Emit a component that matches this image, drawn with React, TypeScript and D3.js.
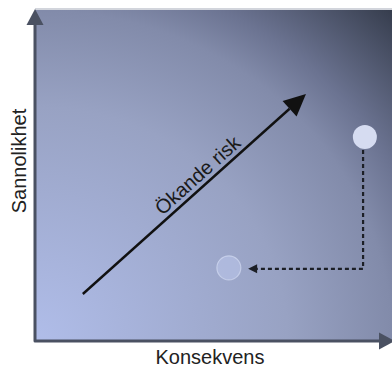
import React from "react";
import * as d3 from "d3";

const X_LABEL = "Konsekvens";
const Y_LABEL = "Sannolikhet";
const TREND_LABEL = "Ökande risk";

// data space 0..100 on both axes
const xDomain = [0, 100];
const yDomain = [0, 100];

const riskPoints = [
  { name: "före", x: 92.4, y: 61.6 },
  { name: "efter", x: 54.3, y: 22.1 },
];
const trendArrow = [
  { x: 13.4, y: 14.2 },
  { x: 75.9, y: 74.6 },
];
const mitigationPath = [
  { x: 91.9, y: 57.7 },
  { x: 91.9, y: 21.8 },
  { x: 59.7, y: 21.8 },
];

const W = 392;
const H = 368;

export default function App() {
  const x = d3.scaleLinear().domain(xDomain).range([35, 392]);
  const y = d3.scaleLinear().domain(yDomain).range([341, 10]);

  const x0 = x(0), x1 = x(100), y0 = y(0), y1 = y(100);

  const head = (tx: number, ty: number, fx: number, fy: number, len: number, hw: number) => {
    const dx = tx - fx, dy = ty - fy;
    const L = Math.hypot(dx, dy);
    const ux = dx / L, uy = dy / L;
    const bx = tx - ux * len, by = ty - uy * len;
    const nx = -uy, ny = ux;
    return {
      pts: `${tx},${ty} ${bx + nx * hw},${by + ny * hw} ${bx - nx * hw},${by - ny * hw}`,
      bx, by,
    };
  };

  // trend arrow
  const ta = trendArrow.map((p) => [x(p.x), y(p.y)] as [number, number]);
  const taHead = head(ta[1][0], ta[1][1], ta[0][0], ta[0][1], 22, 10.5);
  const angle = (Math.atan2(ta[1][1] - ta[0][1], ta[1][0] - ta[0][0]) * 180) / Math.PI;
  const t = 0.55;
  const tdx = ta[1][0] - ta[0][0], tdy = ta[1][1] - ta[0][1];
  const tL = Math.hypot(tdx, tdy);
  const nX = tdy / tL, nY = -tdx / tL;
  const labX = ta[0][0] + tdx * t + nX * 5;
  const labY = ta[0][1] + tdy * t + nY * 5;

  // mitigation dashed path
  const mp = mitigationPath.map((p) => [x(p.x), y(p.y)] as [number, number]);
  const last = mp[mp.length - 1];
  const prev = mp[mp.length - 2];
  const mHead = head(last[0], last[1], prev[0], prev[1], 9, 4.5);
  const mpLine = d3.line()([...mp.slice(0, -1), [mHead.bx, mHead.by]]);

  // axes
  const yHead = head(x0, 9, x0, y0, 16, 8.5);
  const xHead = head(395, y0, x0, y0, 16, 8.5);
  const axisPath = d3.line()([
    [x0, yHead.by],
    [x0, y0],
    [xHead.bx, y0],
  ]);

  return (
    <svg width={W} height={H} style={{ position: "absolute", left: 0, top: 0 }}>
      <defs>
        <radialGradient id="bg" cx="0" cy="1" r="1.414" fx="0" fy="1">
          <stop offset="0" stopColor="#b0bde9" />
          <stop offset="0.5" stopColor="#98a2c3" />
          <stop offset="0.707" stopColor="#828baa" />
          <stop offset="0.8" stopColor="#6b7391" />
          <stop offset="1" stopColor="#363d4d" />
        </radialGradient>
      </defs>
      <rect x={0} y={0} width={W} height={H} fill="#ffffff" />
      <rect x={x0} y={y1} width={x1 - x0} height={y0 - y1} fill="url(#bg)" />
      <line x1={x0} x2={x1} y1={y1 - 1} y2={y1 - 1} stroke="#c3c7d0" strokeWidth={1.5} />

      {/* axes */}
      <path d={axisPath ?? ""} fill="none" stroke="#4a5162" strokeWidth={3} strokeLinejoin="round" />
      <polygon points={yHead.pts} fill="#4a5162" />
      <polygon points={xHead.pts} fill="#4a5162" />

      {/* trend arrow */}
      <line x1={ta[0][0]} y1={ta[0][1]} x2={taHead.bx} y2={taHead.by} stroke="#111" strokeWidth={2.4} />
      <polygon points={taHead.pts} fill="#111" />
      <text
        x={0}
        y={0}
        transform={`translate(${labX},${labY}) rotate(${angle})`}
        textAnchor="middle"
        fontFamily="'Liberation Sans', Arial, sans-serif"
        fontSize={20}
        fill="#1a1a1a"
      >
        {TREND_LABEL}
      </text>

      {/* mitigation path */}
      <path d={mpLine ?? ""} fill="none" stroke="#1c1f26" strokeWidth={2.2} strokeDasharray="4,3" />
      <polygon points={mHead.pts} fill="#1c1f26" />

      {/* risk points */}
      <circle cx={x(riskPoints[0].x)} cy={y(riskPoints[0].y)} r={12} fill="#d6dcf1" />
      <circle
        cx={x(riskPoints[1].x)}
        cy={y(riskPoints[1].y)}
        r={12}
        fill="rgba(190,200,236,0.55)"
        stroke="rgba(222,229,250,0.55)"
        strokeWidth={1.2}
      />

      {/* axis labels */}
      <text
        x={210}
        y={364}
        textAnchor="middle"
        fontFamily="'Liberation Sans', Arial, sans-serif"
        fontSize={20}
        fill="#222"
      >
        {X_LABEL}
      </text>
      <text
        transform={`translate(26,${161}) rotate(-90)`}
        textAnchor="middle"
        fontFamily="'Liberation Sans', Arial, sans-serif"
        fontSize={20}
        fill="#222"
      >
        {Y_LABEL}
      </text>
    </svg>
  );
}
